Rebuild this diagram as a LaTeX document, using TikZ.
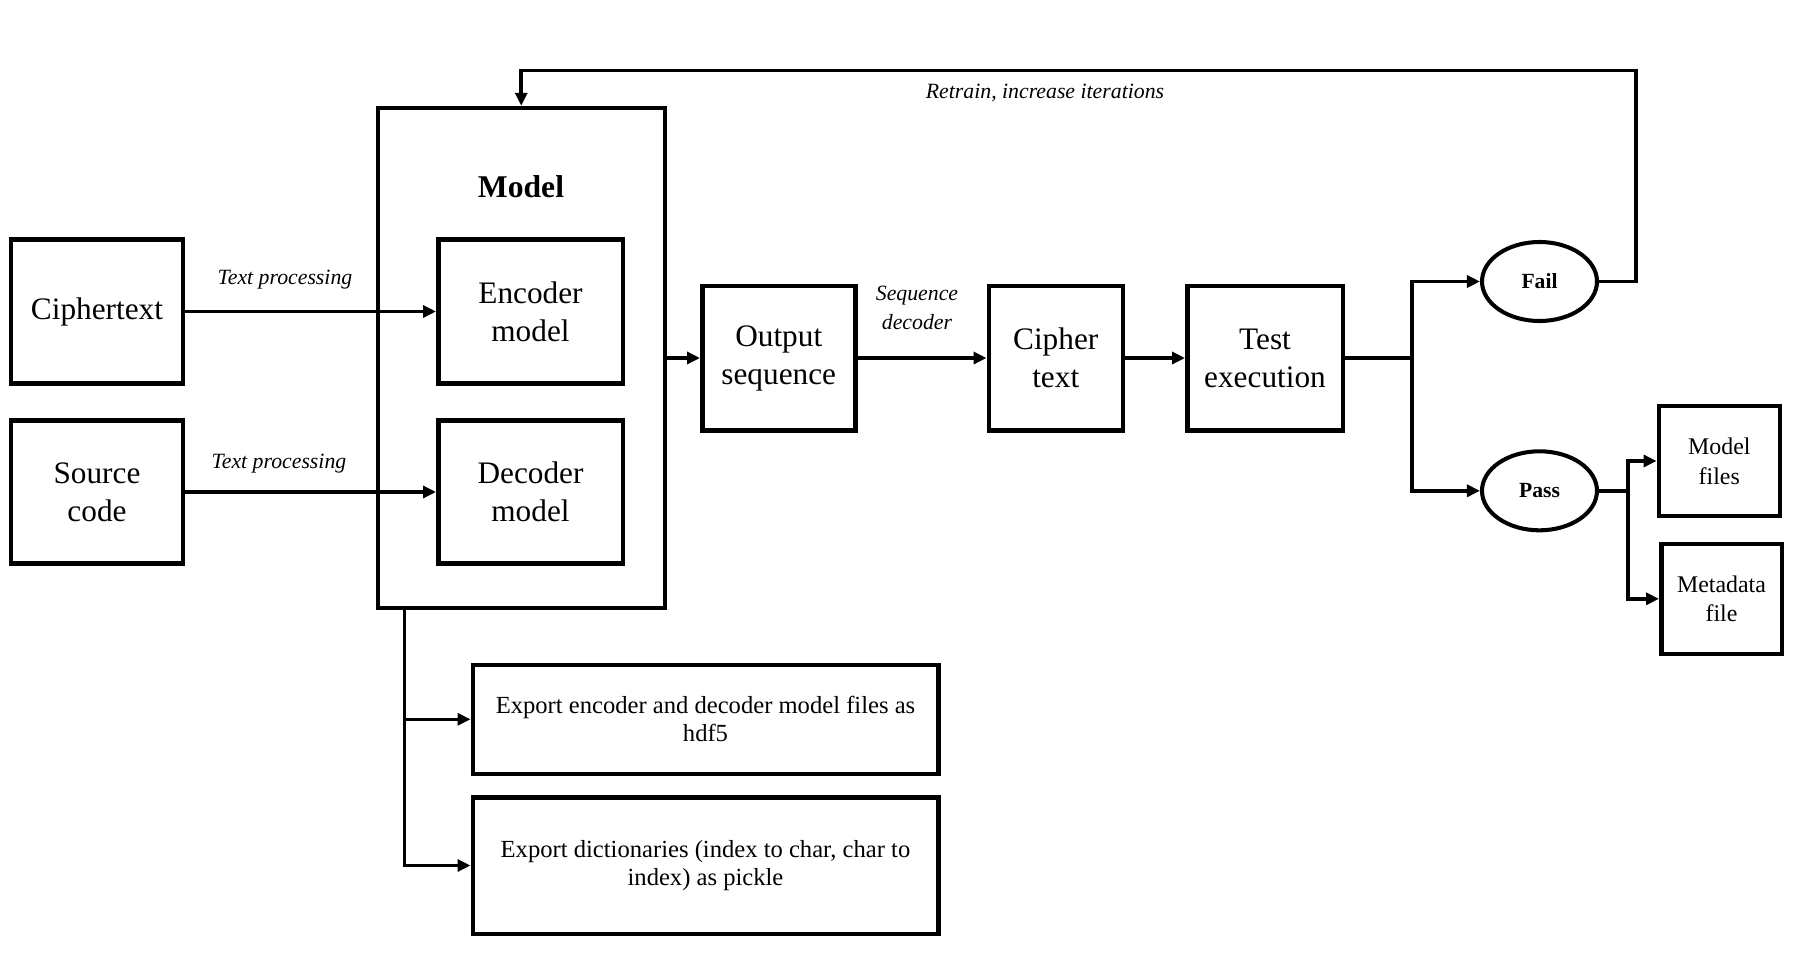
\documentclass[tikz,border=0pt]{standalone}
\usepackage{fontspec}
\setmainfont{Liberation Serif}
\usepackage{tikz}
\usetikzlibrary{positioning, arrows.meta, shapes.geometric}

\begin{document}
\begin{tikzpicture}[
  box/.style={draw, rectangle, line width=1.28pt, inner sep=0pt, align=center, font=\fontsize{8.9}{10.8}\selectfont},
  res/.style={draw, ellipse, line width=1.15pt, inner sep=0pt, minimum width=1.15cm, minimum height=0.79cm, font=\fontsize{6.15}{7}\selectfont\bfseries},
  lbl/.style={inner sep=0pt, align=center, font=\fontsize{6.2}{8.4}\selectfont\itshape},
  arr/.style={line width=1pt, -{Triangle[length=0.13cm, width=0.12cm]}},
  line/.style={line width=1pt}
]
\useasboundingbox (0,0) rectangle (18.06,-9.67);
% inputs
\node[box, minimum width=1.72cm, minimum height=1.44cm] (CT) at (0.97, -3.115) {Ciphertext};
\node[box, minimum width=1.72cm, minimum height=1.43cm] (SC) at (0.97, -4.92) {Source\\code};
% model
\node[box, minimum width=2.87cm, minimum height=5.0cm] (M) at (5.2125, -3.58) {};
\node[font=\fontsize{9}{11}\selectfont\bfseries] (MT) at (5.21, -1.87) {Model};
\node[box, minimum width=1.845cm, minimum height=1.44cm] (ENC) at (5.305, -3.115) {Encoder\\model};
\node[box, minimum width=1.845cm, minimum height=1.43cm] (DEC) at (5.305, -4.92) {Decoder\\model};
% pipeline
\node[box, minimum width=1.53cm, minimum height=1.445cm] (OS) at (7.7875, -3.58) {Output\\sequence};
\node[box, minimum width=1.34cm, minimum height=1.445cm] (CX) at (10.5575, -3.58) {Cipher\\text};
\node[box, minimum width=1.555cm, minimum height=1.445cm] (TE) at (12.65, -3.58) {Test\\execution};
\node[res] (F) at (15.395, -2.815) {Fail};
\node[res] (P) at (15.395, -4.908) {Pass};
\node[box, minimum width=1.21cm, minimum height=1.1cm, font=\fontsize{6.8}{8.5}\selectfont] (MF) at (17.193, -4.61) {Model\\files};
\node[box, minimum width=1.205cm, minimum height=1.1cm, font=\fontsize{6.8}{8.5}\selectfont] (MD) at (17.215, -5.988) {Metadata\\file};
% exports
\node[box, minimum width=4.655cm, minimum height=1.09cm, font=\fontsize{7}{8}\selectfont] (E1) at (7.055, -7.193) {Export encoder and decoder model files as\\hdf5};
\node[box, minimum width=4.655cm, minimum height=1.365cm, font=\fontsize{7}{8}\selectfont] (E2) at (7.055, -8.655) {Export dictionaries (index to char, char to\\index) as pickle};
% labels
\node[lbl] (TP1) at (2.85, -2.80) {Text processing};
\node[lbl] (TP2) at (2.79, -4.64) {Text processing};
\node[lbl] (SD) at (9.17, -3.08) {Sequence\\decoder};
\node[lbl] (RI) at (10.45, -0.93) {Retrain, increase iterations};

\coordinate (split) at (14.12, -3.58);
\coordinate (loop) at (16.36, -0.707);
\coordinate (fork) at (16.28, -4.908);

\draw[arr] (CT) -- (ENC);
\draw[arr] (SC) -- (DEC);
\draw[arr] (M) -- (OS);
\draw[arr] (OS) -- (CX);
\draw[arr] (CX) -- (TE);
\draw[line] (TE) -- (split);
\draw[arr] (split) |- (F);
\draw[arr] (split) |- (P);
\draw[arr] (F.east) -| (loop) -| (M.north);
\draw[line] (P) -- (fork);
\draw[arr] (fork) |- (MF);
\draw[arr] (fork) |- (MD);
\draw[arr] ([xshift=0.29cm]M.south west) |- (E1);
\draw[arr] ([xshift=0.29cm]M.south west) |- (E2);
\end{tikzpicture}
\end{document}
